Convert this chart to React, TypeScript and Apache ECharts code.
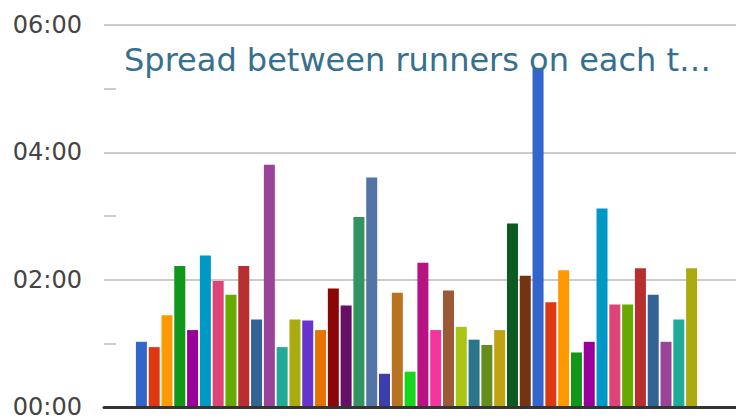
import React, { useEffect, useRef } from "react";
import * as echarts from "echarts";

// Spread in seconds for each leg
const legs: string[] = Array.from({ length: 44 }, (_, i) => `Leg ${i + 1}`);
const spreadSeconds: number[] = [
  63, 58, 88, 134, 74, 144, 120, 107, 134, 84, 229, 58, 84, 83, 74,
  113, 97, 180, 217, 33, 109, 35, 137, 74, 111, 77, 65, 60, 74, 174, 125,
  320, 100, 130, 53, 63, 188, 98, 98, 132, 107, 63, 84, 132,
];
const yTicks: number[] = [0, 120, 240, 360];

const palette = [
  "#3366cc", "#dc3912", "#ff9900", "#109618", "#990099", "#0099c6", "#dd4477",
  "#66aa00", "#b82e2e", "#316395", "#994499", "#22aa99", "#aaaa11", "#6633cc",
  "#e67300", "#8b0707", "#651067", "#329262", "#5574a6", "#3b3eac", "#b77322",
  "#16d620", "#b91383", "#f4359e", "#9c5935", "#a9c413", "#2a778d", "#668d1c",
  "#bea413", "#0c5922", "#743411",
];

const fmt = (v: number) => {
  const m = Math.floor(v / 60);
  const s = Math.round(v % 60);
  return `${String(m).padStart(2, "0")}:${String(s).padStart(2, "0")}`;
};

export default function App() {
  const ref = useRef<HTMLDivElement>(null);
  useEffect(() => {
    if (!ref.current) return;
    const chart = echarts.init(ref.current, undefined, { renderer: "svg" });
    const yMin = yTicks[0];
    const yMax = yTicks[yTicks.length - 1];
    const yInt = yTicks[1] - yTicks[0];
    chart.setOption({
      animation: false,
      color: palette,
      title: {
        text: "Spread between runners on each t…",
        left: 119,
        top: 39,
        textStyle: {
          fontFamily: "DejaVu Sans",
          fontSize: 32,
          fontWeight: "normal",
          color: "#35708e",
        },
      },
      grid: [
        { left: 104, right: 0, top: 25, bottom: 10 },
        { left: 135, right: 38, top: 25, bottom: 10 },
      ],
      xAxis: [
        {
          type: "value",
          gridIndex: 0,
          min: 0,
          max: 1,
          z: 10,
          axisLine: { show: true, lineStyle: { color: "#333333", width: 3 } },
          axisTick: { show: false },
          axisLabel: { show: false },
          splitLine: { show: false },
        },
        {
          type: "category",
          gridIndex: 1,
          data: legs,
          axisLine: { show: false },
          axisTick: { show: false },
          axisLabel: { show: false },
        },
      ],
      yAxis: [
        {
          type: "value",
          gridIndex: 0,
          min: yMin,
          max: yMax,
          interval: yInt,
          axisLine: { show: false },
          axisTick: { show: false, inside: true },
          minorTick: {
            show: true,
            splitNumber: 2,
            length: 12,
            lineStyle: { color: "#cccccc", width: 2 },
          },
          axisLabel: {
            formatter: (v: number) => fmt(v),
            fontFamily: "DejaVu Sans",
            fontSize: 24,
            color: "#444444",
            margin: 22,
          },
          splitLine: { show: true, lineStyle: { color: "#cccccc", width: 2 } },
        },
        {
          type: "value",
          gridIndex: 1,
          min: yMin,
          max: yMax,
          interval: yInt,
          show: false,
          splitLine: { show: false },
        },
      ],
      series: [
        {
          type: "bar",
          xAxisIndex: 1,
          yAxisIndex: 1,
          colorBy: "data",
          barWidth: 11,
          data: spreadSeconds,
        },
      ],
    });
    return () => chart.dispose();
  }, []);
  return <div ref={ref} style={{ width: 736, height: 419, position: "absolute", left: 0, top: 0 }} />;
}
